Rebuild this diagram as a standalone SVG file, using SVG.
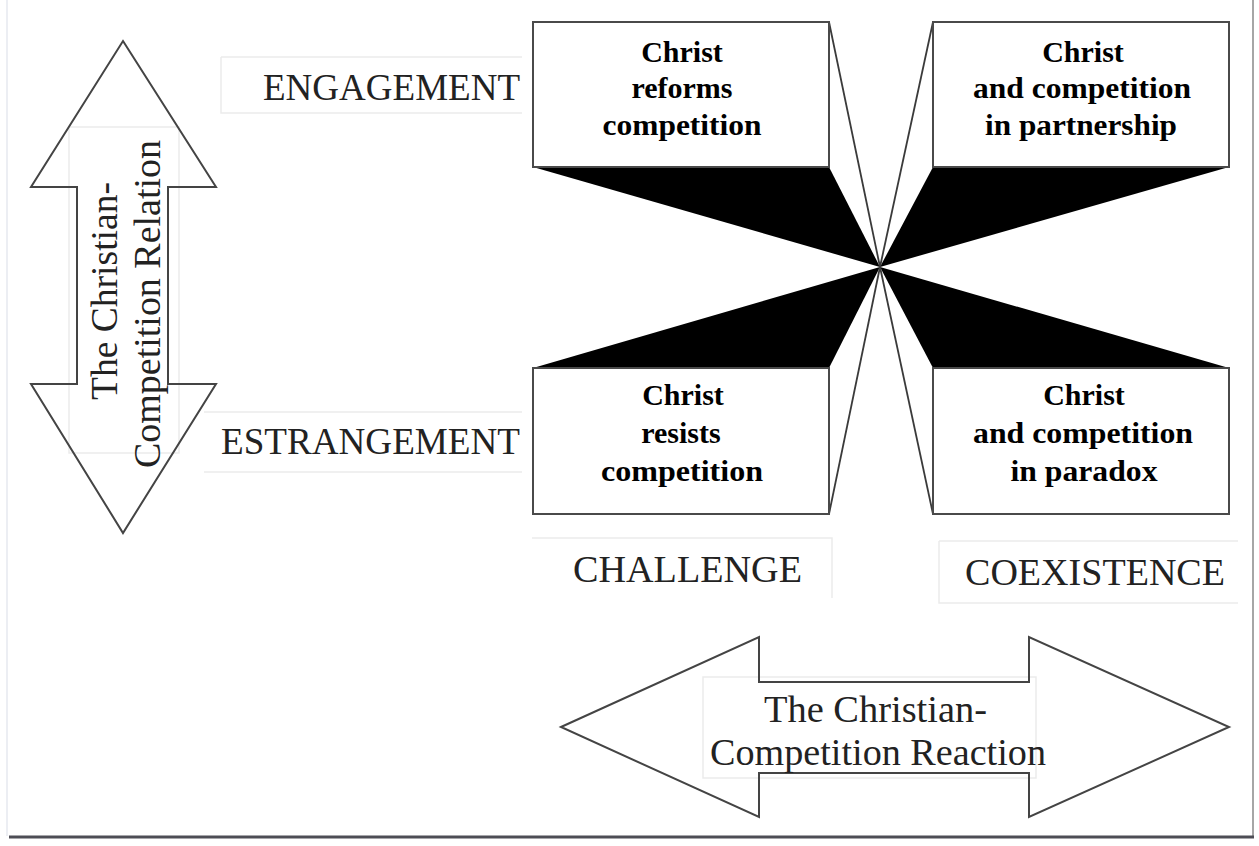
<svg xmlns="http://www.w3.org/2000/svg" width="1259" height="846" viewBox="0 0 1259 846">
<style>
.box{fill:#fff;stroke:#4a4a4a;stroke-width:2}
.wedge{fill:#000;stroke:none}
.edge{stroke:#3a3a3a;stroke-width:1.8;fill:none}
.arrow{fill:#fff;stroke:none}
.arrowline{fill:none;stroke:#444;stroke-width:2;stroke-linejoin:miter}
.faint{fill:none;stroke:#ebebeb;stroke-width:1.5}
.bt{font-family:"Liberation Serif","Times New Roman",serif;font-weight:bold;font-size:30px;fill:#000;text-anchor:middle}
.lbl{font-family:"Liberation Serif","Times New Roman",serif;font-size:37px;fill:#222}
.at{font-family:"Liberation Serif","Times New Roman",serif;font-size:37px;fill:#222;text-anchor:middle}
</style>
<defs>
<polygon id="vshape" points="123,41 216,187 168,187 168,384 216,384 123,533 31,384 77,384 77,187 31,187"/>
<polygon id="hshape" points="561,727 759,637 759,682 1029,682 1029,637 1229,727 1029,817 1029,773 759,773 759,817"/>
</defs>
<rect x="0" y="0" width="1259" height="846" fill="#fff"/>
<g id="frame">
<line x1="7" y1="0" x2="7" y2="836" stroke="#eceef3" stroke-width="2"/>
<line x1="1253" y1="0" x2="1253" y2="837" stroke="#888" stroke-width="1.5"/>
<line x1="9" y1="837" x2="1254" y2="837" stroke="#4d4d55" stroke-width="3"/>
</g>
<g id="connectors">
<polygon class="wedge" points="533,167 829,167 880,267"/>
<polygon class="wedge" points="933,167 1229,167 880,267"/>
<polygon class="wedge" points="533,368 829,368 880,267"/>
<polygon class="wedge" points="933,368 1229,368 880,267"/>
<line class="edge" x1="829" y1="22" x2="880" y2="267"/>
<line class="edge" x1="933" y1="22" x2="880" y2="267"/>
<line class="edge" x1="829" y1="514" x2="880" y2="267"/>
<line class="edge" x1="933" y1="514" x2="880" y2="267"/>
</g>
<g id="node-reforms">
<rect class="box" x="533" y="22" width="296" height="145"/>
<text class="bt" x="682" y="62">Christ</text>
<text class="bt" x="682" y="98">reforms</text>
<text class="bt" x="682" y="135" textLength="159" lengthAdjust="spacingAndGlyphs">competition</text>
</g>
<g id="node-partnership">
<rect class="box" x="933" y="22" width="296" height="145"/>
<text class="bt" x="1083" y="62">Christ</text>
<text class="bt" x="1082" y="98" textLength="218" lengthAdjust="spacingAndGlyphs">and competition</text>
<text class="bt" x="1081" y="135" textLength="192" lengthAdjust="spacingAndGlyphs">in partnership</text>
</g>
<g id="node-resists">
<rect class="box" x="533" y="368" width="296" height="146"/>
<text class="bt" x="683" y="405">Christ</text>
<text class="bt" x="681" y="443">resists</text>
<text class="bt" x="682" y="481" textLength="162" lengthAdjust="spacingAndGlyphs">competition</text>
</g>
<g id="node-paradox">
<rect class="box" x="933" y="368" width="296" height="146"/>
<text class="bt" x="1084" y="405">Christ</text>
<text class="bt" x="1083" y="443" textLength="220" lengthAdjust="spacingAndGlyphs">and competition</text>
<text class="bt" x="1084" y="481" textLength="147" lengthAdjust="spacingAndGlyphs">in paradox</text>
</g>
<g id="label-engagement">
<path class="faint" d="M221,57 H522 M221,57 V113 H522"/>
<text class="lbl" x="263" y="100" textLength="257" lengthAdjust="spacingAndGlyphs">ENGAGEMENT</text>
</g>
<g id="label-estrangement">
<path class="faint" d="M204,412 H522 M204,472 H522"/>
<text class="lbl" x="221" y="454" textLength="299" lengthAdjust="spacingAndGlyphs">ESTRANGEMENT</text>
</g>
<g id="label-challenge">
<path class="faint" d="M532,538 H832 V598"/>
<text class="lbl" x="573" y="582" textLength="229" lengthAdjust="spacingAndGlyphs">CHALLENGE</text>
</g>
<g id="label-coexistence">
<path class="faint" d="M939,541 H1238 M939,541 V603 H1238"/>
<text class="lbl" x="965" y="585" textLength="260" lengthAdjust="spacingAndGlyphs">COEXISTENCE</text>
</g>
<g id="arrow-relation">
<use href="#vshape" class="arrow"/>
<rect class="faint" x="69" y="127" width="110" height="326"/>
<use href="#vshape" class="arrowline"/>
<text class="at" transform="translate(116.5,291) rotate(-90)" textLength="218" lengthAdjust="spacingAndGlyphs">The Christian-</text>
<text class="at" transform="translate(159.5,304) rotate(-90)" textLength="328" lengthAdjust="spacingAndGlyphs">Competition Relation</text>
</g>
<g id="arrow-reaction">
<use href="#hshape" class="arrow"/>
<rect class="faint" x="703" y="677" width="333" height="101"/>
<use href="#hshape" class="arrowline"/>
<text class="at" x="875.5" y="722" textLength="223" lengthAdjust="spacingAndGlyphs">The Christian-</text>
<text class="at" x="878" y="765" textLength="336" lengthAdjust="spacingAndGlyphs">Competition Reaction</text>
</g>
</svg>
